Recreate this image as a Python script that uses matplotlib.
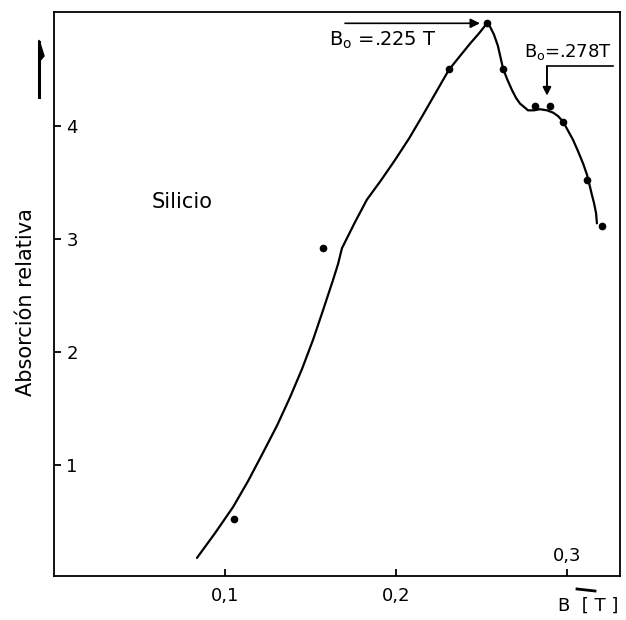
import matplotlib
matplotlib.use("Agg")
import matplotlib.pyplot as plt
from matplotlib.patches import Polygon
from matplotlib.lines import Line2D

# measured points (B in T, relative absorption)
point_B = [0.1053, 0.1573, 0.2310, 0.2532, 0.2626, 0.2813, 0.2901, 0.2977, 0.3117, 0.3205]
point_A = [0.52, 2.92, 4.51, 4.91, 4.51, 4.18, 4.18, 4.04, 3.52, 3.12]

# hand-drawn fitted curve, traced
curve_B = [0.0836, 0.0942, 0.1047, 0.1135, 0.1222, 0.1304, 0.1380, 0.1450, 0.1515,
           0.1573, 0.1632, 0.1661, 0.1684, 0.1760, 0.1830, 0.1912, 0.1994, 0.2076,
           0.2158, 0.2234, 0.2310, 0.2374, 0.2433, 0.2485, 0.2532, 0.2550, 0.2573,
           0.2596, 0.2626, 0.2649, 0.2678, 0.2702, 0.2725, 0.2749, 0.2772, 0.2807,
           0.2842, 0.2883, 0.2918, 0.2947, 0.2977, 0.3006, 0.3035, 0.3064, 0.3094,
           0.3117, 0.3135, 0.3146, 0.3158, 0.3170, 0.3175]
curve_A = [0.18, 0.40, 0.63, 0.86, 1.11, 1.35, 1.60, 1.85, 2.11,
           2.37, 2.64, 2.78, 2.92, 3.15, 3.35, 3.52, 3.70, 3.89,
           4.10, 4.30, 4.50, 4.62, 4.73, 4.82, 4.91, 4.88, 4.81,
           4.71, 4.51, 4.42, 4.32, 4.25, 4.20, 4.17, 4.14, 4.14,
           4.15, 4.14, 4.12, 4.09, 4.04, 3.96, 3.88, 3.78, 3.67,
           3.57, 3.46, 3.39, 3.32, 3.23, 3.14]

y_ticks = [1, 2, 3, 4]
y_ticklabels = ["1", "2", "3", "4"]
x_ticks = [0.1, 0.2, 0.3]
x_ticklabels = ["0,1", "0,2", ""]

W, H = 626, 620
fig = plt.figure(figsize=(W / 100, H / 100), dpi=100)
ax = fig.add_axes([54 / W, 1 - 576 / H, (620 - 54) / W, (576 - 12) / H])

ax.plot(curve_B, curve_A, color="black", lw=1.6, solid_capstyle="round",
        solid_joinstyle="round")
ax.plot(point_B, point_A, "o", color="black", ms=4.5)

ax.set_xlim(0, 0.331)
ax.set_ylim(0.02, 5.01)

for s in ax.spines.values():
    s.set_linewidth(1.3)

ax.set_yticks(y_ticks)
ax.set_yticklabels(y_ticklabels, ha="left", fontsize=13)
ax.tick_params(axis="y", direction="in", length=5, width=1.3, pad=-9)
ax.set_xticks(x_ticks)
ax.set_xticklabels(x_ticklabels, fontsize=13)
ax.tick_params(axis="x", direction="in", length=5, width=1.3, pad=8)

# inner "0,3" label
ax.text(0.3, 0.20, "0,3", ha="center", va="center", fontsize=13)

# labels
fig.text(26 / W, 1 - 302 / H, "Absorción relativa", rotation=90,
         ha="center", va="center", fontsize=15)
fig.text(588 / W, 1 - 606 / H, "B  [ T ]", ha="center", va="center", fontsize=13)
ax.text(0.075, 3.33, "Silicio", ha="center", va="center", fontsize=15)

# annotations
ax.text(0.1924, 4.76, "B$_\\mathrm{o}$ =.225 T", ha="center", va="center", fontsize=14)
ax.annotate("", xy=(0.2491, 4.91), xytext=(0.1702, 4.91),
            arrowprops=dict(arrowstyle="-|>", color="black", lw=1.2,
                            mutation_scale=14, shrinkA=0, shrinkB=0))
ax.text(0.3006, 4.57, "B$_\\mathrm{o}$=.278T", ha="center", va="bottom", fontsize=13)
ax.plot([0.3269, 0.2883], [4.53, 4.53], color="black", lw=1.2)
ax.annotate("", xy=(0.2883, 4.27), xytext=(0.2883, 4.53),
            arrowprops=dict(arrowstyle="-|>", color="black", lw=1.4,
                            mutation_scale=12, shrinkA=0, shrinkB=0))

# y-axis direction arrow (left of axis)
fig.add_artist(Line2D([39 / W, 39 / W], [1 - 97 / H, 1 - 42 / H],
                      color="black", lw=2.2, transform=fig.transFigure))
fig.add_artist(Polygon([[39 / W, 1 - 40 / H], [44 / W, 1 - 56 / H], [39 / W, 1 - 62 / H]],
                       closed=True, color="black", transform=fig.transFigure))
# x direction arrow above T
fig.add_artist(Line2D([577 / W, 595 / W], [1 - 589 / H, 1 - 591 / H],
                      color="black", lw=2.0, transform=fig.transFigure))

fig.savefig("out.png", dpi=100)
